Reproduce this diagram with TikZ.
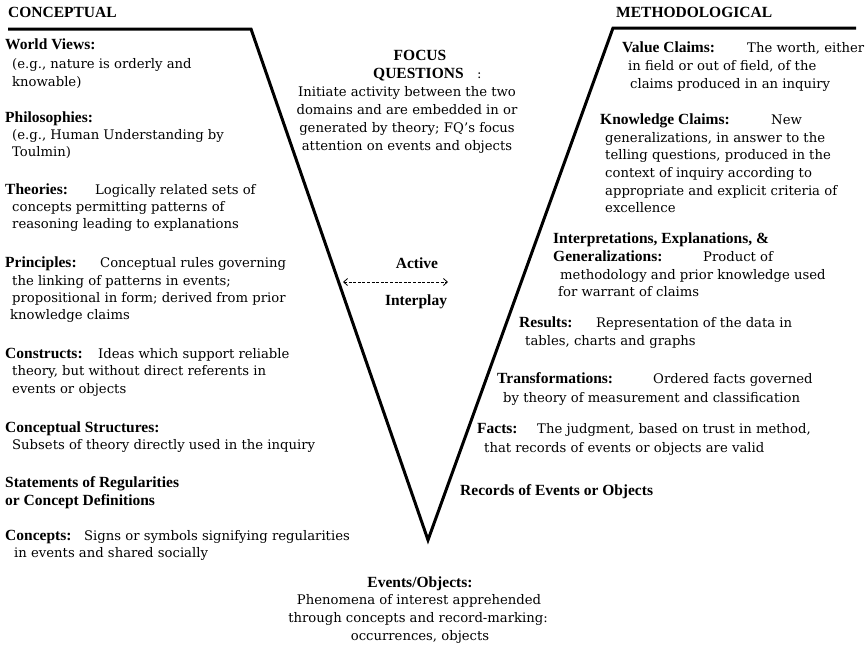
\documentclass[tikz,border=0pt]{standalone}
\usepackage{fontspec}
\setmainfont{DejaVu Serif}
\newfontfamily\hdfamily{Liberation Serif}
\usetikzlibrary{arrows.meta}

\newcommand{\txtfont}{\fontsize{13.2pt}{15pt}\selectfont}
\newcommand{\hdfont}{\hdfamily\bfseries\fontsize{15.5pt}{18pt}\selectfont}

\tikzset{
  txt/.style={anchor=base west, inner sep=0pt, font=\txtfont},
  hd/.style={anchor=base west, inner sep=0pt, font=\hdfont},
  ctxt/.style={anchor=base, inner sep=0pt, font=\txtfont},
  chd/.style={anchor=base, inner sep=0pt, font=\hdfont},
  vline/.style={line width=3pt, line join=miter},
}

\begin{document}
\begin{tikzpicture}[x=1pt, y=-1pt]
\useasboundingbox (0,0) rectangle (868,649);

% ---- the V frame ----
\coordinate (ltop) at (8,29);
\coordinate (lcorner) at (251,29);
\coordinate (vertex) at (428,540);
\coordinate (rcorner) at (613,28);
\coordinate (rtop) at (856,28);
\draw[vline] (ltop) -- (lcorner) -- (vertex) -- (rcorner) -- (rtop);

% ---- conceptual side ----
\node[hd] (conc) at (8,17) {CONCEPTUAL};

\node[hd] (wv) at (5,49) {World Views:};
\node[txt] (wv1) at (12,68) {(e.g., nature is orderly and};
\node[txt] (wv2) at (12,86) {knowable)};

\node[hd] (ph) at (5,122) {Philosophies:};
\node[txt] (ph1) at (12,139) {(e.g., Human Understanding by};
\node[txt] (ph2) at (12,156) {Toulmin)};

\node[hd] (th) at (5,194) {Theories:};
\node[txt] (th0) at (95,194) {Logically related sets of};
\node[txt] (th1) at (12,211) {concepts permitting patterns of};
\node[txt] (th2) at (12,228) {reasoning leading to explanations};

\node[hd] (pr) at (5,267) {Principles:};
\node[txt] (pr0) at (100,267) {Conceptual rules governing};
\node[txt] (pr1) at (12,285) {the linking of patterns in events;};
\node[txt] (pr2) at (12,302) {propositional in form; derived from prior};
\node[txt] (pr3) at (10,319) {knowledge claims};

\node[hd] (co) at (5,358) {Constructs:};
\node[txt] (co0) at (98,358) {Ideas which support reliable};
\node[txt] (co1) at (12,375) {theory, but without direct referents in};
\node[txt] (co2) at (12,393) {events or objects};

\node[hd] (cs) at (5,432) {Conceptual Structures:};
\node[txt] (cs1) at (12,449) {Subsets of theory directly used in the inquiry};

\node[hd] (sr) at (5,487) {Statements of Regularities};
\node[hd] (sr1) at (5,505) {or Concept Definitions};

\node[hd] (cp) at (5,540) {Concepts:};
\node[txt] (cp0) at (84,540) {Signs or symbols signifying regularities};
\node[txt] (cp1) at (14,557) {in events and shared socially};

% ---- centre ----
\node[chd] (fq) at (420,60) {FOCUS};
\node[hd] (fq0) at (373,78) {QUESTIONS};
\node[txt] (fqc) at (477,78) {:};
\node[ctxt] (fq1) at (407,96) {Initiate activity between the two};
\node[ctxt] (fq2) at (407,114) {domains and are embedded in or};
\node[ctxt] (fq3) at (407,132) {generated by theory; FQ’s focus};
\node[ctxt] (fq4) at (407,150) {attention on events and objects};

\node[chd] (act) at (417,268) {Active};
\coordinate (ai) at (343,282);
\coordinate (ao) at (448,282);
\draw[line width=0.8pt, dash pattern=on 3pt off 1.6pt,
      {Straight Barb[length=4pt,width=7pt]}-{Straight Barb[length=4pt,width=7pt]}] (ai) -- (ao);
\node[chd] (ip) at (416,305) {Interplay};

\node[hd] (rec) at (460,495) {Records of Events or Objects};

\node[chd] (ev) at (420,587) {Events/Objects:};
\node[ctxt] (ev1) at (419,604) {Phenomena of interest apprehended};
\node[ctxt] (ev2) at (418,622) {through concepts and record-marking:};
\node[ctxt] (ev3) at (420,640) {occurrences, objects};

% ---- methodological side ----
\node[hd] (meth) at (616,17) {METHODOLOGICAL};

\node[hd] (vc) at (622,52) {Value Claims:};
\node[txt] (vc0) at (747,52) {The worth, either};
\node[txt] (vc1) at (628,70) {in field or out of field, of the};
\node[txt] (vc2) at (630,88) {claims produced in an inquiry};

\node[hd] (kc) at (600,124) {Knowledge Claims:};
\node[txt] (kc0) at (771,124) {New};
\node[txt] (kc1) at (605,142) {generalizations, in answer to the};
\node[txt] (kc2) at (605,159) {telling questions, produced in the};
\node[txt] (kc3) at (605,177) {context of inquiry according to};
\node[txt] (kc4) at (605,195) {appropriate and explicit criteria of};
\node[txt] (kc5) at (605,212) {excellence};

\node[hd] (ie) at (553,243) {Interpretations, Explanations, \&};
\node[hd] (ge) at (553,261) {Generalizations:};
\node[txt] (ge0) at (703,261) {Product of};
\node[txt] (ge1) at (560,279) {methodology and prior knowledge used};
\node[txt] (ge2) at (558,296) {for warrant of claims};

\node[hd] (rs) at (519,327) {Results:};
\node[txt] (rs0) at (596,327) {Representation of the data in};
\node[txt] (rs1) at (525,345) {tables, charts and graphs};

\node[hd] (tf) at (497,383) {Transformations:};
\node[txt] (tf0) at (653,383) {Ordered facts governed};
\node[txt] (tf1) at (503,402) {by theory of measurement and classification};

\node[hd] (fa) at (477,433) {Facts:};
\node[txt] (fa0) at (537,433) {The judgment, based on trust in method,};
\node[txt] (fa1) at (484,452) {that records of events or objects are valid};
\end{tikzpicture}
\end{document}
